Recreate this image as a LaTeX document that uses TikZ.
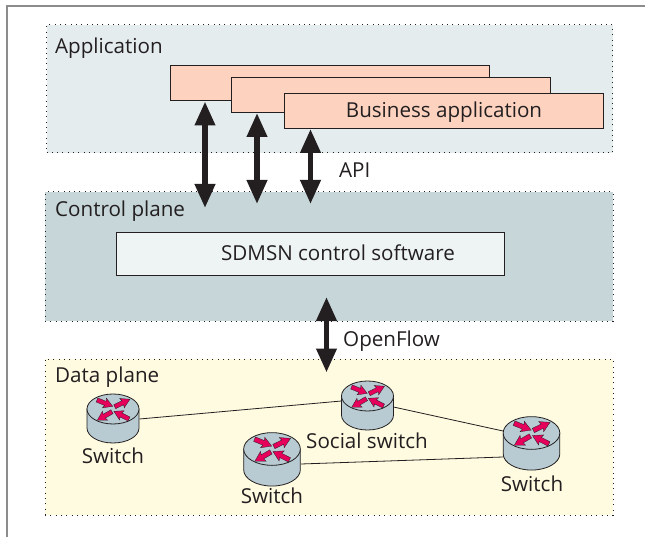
\documentclass[tikz,border=0pt]{standalone}
\usepackage{fontspec}
\setmainfont{Open Sans}
\usepackage{tikz}
\usetikzlibrary{positioning,calc,arrows.meta}
\definecolor{appfill}{HTML}{E4ECEE}
\definecolor{ctrlfill}{HTML}{C7D6D9}
\definecolor{datafill}{HTML}{FFFBE0}
\definecolor{bizfill}{HTML}{FDD3C0}
\definecolor{softfill}{HTML}{EEF4F4}
\definecolor{swfill}{HTML}{B8CBD3}
\definecolor{swarrow}{HTML}{E6005C}
\definecolor{inkblack}{HTML}{231F20}
\definecolor{framegray}{HTML}{8C8C8C}
\tikzset{
  plane/.style={draw=inkblack,line width=1pt,dash pattern=on 1pt off 4.3pt,anchor=north west,inner sep=0pt,outer sep=0pt},
  bizbox/.style={draw=inkblack,fill=bizfill,line width=.8pt,minimum width=319pt,minimum height=35pt,anchor=north west,inner sep=0pt},
  softbox/.style={draw=inkblack,fill=softfill,line width=.8pt,inner sep=0pt},
  lbl/.style={text=inkblack,font=\fontsize{20.6}{24}\selectfont,inner sep=0pt},
  bigarrow/.style={{Triangle[length=24pt,width=19.5pt]}-{Triangle[length=24pt,width=19.5pt]},draw=inkblack,line width=5.5pt},
  link/.style={draw=inkblack,line width=.8pt},
}
% one switch: name, centre of its top face, scale
\newcommand{\switchicon}[3]{%
\begin{scope}[shift={#2},scale=#3]
\coordinate (#1) at (0,0);
\draw[fill=swfill,draw=inkblack,line width=.8pt] (-26,0) -- (-26,19) arc[start angle=180,end angle=0,x radius=26,y radius=15] -- (26,0) -- cycle;
\draw[fill=swfill,draw=inkblack,line width=.8pt] (0,0) ellipse[x radius=26,y radius=15];
\foreach \tx/\ty/\rot in {-16/-9/-22,1.7/-2.3/26,-1/2.7/-150,16/10/-207}
  \fill[swarrow,draw=inkblack,line width=.3pt,shift={(\tx,\ty)},rotate=\rot] (0,-2.2) -- (9,-2.2) -- (8,-5.2) -- (17,0) -- (8,5.2) -- (9,2.2) -- (0,2.2) -- cycle;
\end{scope}}
\begin{document}
\begin{tikzpicture}[x=1pt,y=-1pt]
\useasboundingbox (0,0) rectangle (645,537);
\draw[framegray,line width=2pt] (7,537) -- (7,6) -- (645,6);
% planes
\node[plane,fill=appfill,minimum width=566pt,minimum height=128pt] (app) at (46.5,25) {};
\node[plane,fill=ctrlfill,minimum width=568pt,minimum height=129pt] (ctrl) at (45,192) {};
\node[plane,fill=datafill,minimum width=568pt,minimum height=156pt] (data) at (45,359) {};
\node[lbl,anchor=base west] (applabel) at (55,54) {Application};
\node[lbl,anchor=base west] (ctrllabel) at (55,217) {Control plane};
\node[lbl,anchor=base west] (datalabel) at (55,382) {Data plane};
% business boxes
\node[bizbox] (biza) at (169.5,65) {};
\node[bizbox] (bizb) at (231,77.5) {};
\node[bizbox] (bizc) at (284,93.5) {};
\node[lbl,anchor=base] (biztext) at (444,118) {Business application};
\node[softbox,minimum width=388pt,minimum height=43pt,anchor=north west] (soft) at (116,232) {};
\node[lbl,anchor=base] (softtext) at (338,261) {SDMSN control software};
% arrows
\coordinate (aat) at (205,101.5);
\coordinate (aab) at (205,208);
\coordinate (abt) at (257,113);
\coordinate (abb) at (257,204);
\coordinate (act) at (310.5,129);
\coordinate (acb) at (310.5,204);
\coordinate (adt) at (326.5,297);
\coordinate (adb) at (326.5,372.5);
\draw[bigarrow] (aat) -- (aab);
\draw[bigarrow] (abt) -- (abb);
\draw[bigarrow] (act) -- (acb);
\draw[bigarrow] (adt) -- (adb);
\node[lbl,anchor=base west] (api) at (339,178) {API};
\node[lbl,anchor=base west] (ofl) at (343,346) {OpenFlow};
% switches
\switchicon{swa}{(113,409)}{1}
\switchicon{swb}{(367.5,396)}{1}
\switchicon{swc}{(272,449)}{1.09}
\switchicon{swd}{(531.5,433)}{1.09}
\node[lbl,anchor=base] (swalabel) at (113,463) {Switch};
\node[lbl,anchor=base] (swblabel) at (367,448) {Social switch};
\node[lbl,anchor=base] (swclabel) at (272,503) {Switch};
\node[lbl,anchor=base] (swdlabel) at (532,491) {Switch};
\coordinate (lka) at ($(swa)+(26.5,10)$);
\coordinate (lkb) at ($(swb)+(-26,5)$);
\coordinate (lkc) at ($(swb)+(26,11)$);
\coordinate (lkd) at ($(swd)+(-28.5,-2)$);
\coordinate (lke) at ($(swc)+(29,15)$);
\coordinate (lkf) at ($(swd)+(-28.5,24)$);
\draw[link] (lka) -- (lkb);
\draw[link] (lkc) -- (lkd);
\draw[link] (lke) -- (lkf);
\end{tikzpicture}
\end{document}
